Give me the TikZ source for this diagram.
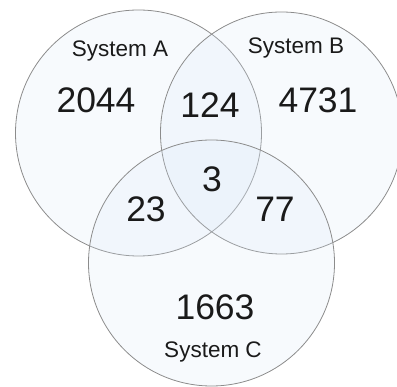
\documentclass[tikz,border=0pt]{standalone}
\usepackage{fontspec}
\setmainfont{Liberation Sans}
\definecolor{vnline}{HTML}{8C8C8C}
\definecolor{vnfill}{HTML}{D8E6F6}
\definecolor{vntext}{HTML}{1A1A1A}

\begin{document}
\begin{tikzpicture}[x=1pt,y=-1pt,
  setcircle/.style={circle,draw=vnline,line width=0.8pt,fill=vnfill,fill opacity=0.2,inner sep=0pt},
  setname/.style={anchor=base,text=vntext,font=\fontsize{22.5}{24}\selectfont},
  setcount/.style={anchor=base,text=vntext,font=\fontsize{35.5}{38}\selectfont}]
  \useasboundingbox (0,0) rectangle (397,387);
  \clip (0,0) rectangle (397,387);
  % the three sets
  \foreach \name/\x/\y/\d in {sysA/138.5/133/246, sysB/281.5/133/242, sysC/211.5/263/246}
  {
    \node[setcircle,minimum size=\d pt] (\name) at (\x,\y) {};
  }
  % set names
  \node[setname] (labA) at (120,57) {System A};
  \node[setname] (labB) at (296,54) {System B};
  \node[setname] (labC) at (213,358) {System C};
  % region counts
  \foreach \name/\x/\y/\val in {
    cntA/96/113/2044, cntB/318/113/4731, cntC/215/320/1663,
    cntAB/210/118/124, cntAC/146/222/23, cntBC/275/222/77, cntABC/212/192/3}
  {
    \node[setcount] (\name) at (\x,\y) {\val};
  }
\end{tikzpicture}
\end{document}
